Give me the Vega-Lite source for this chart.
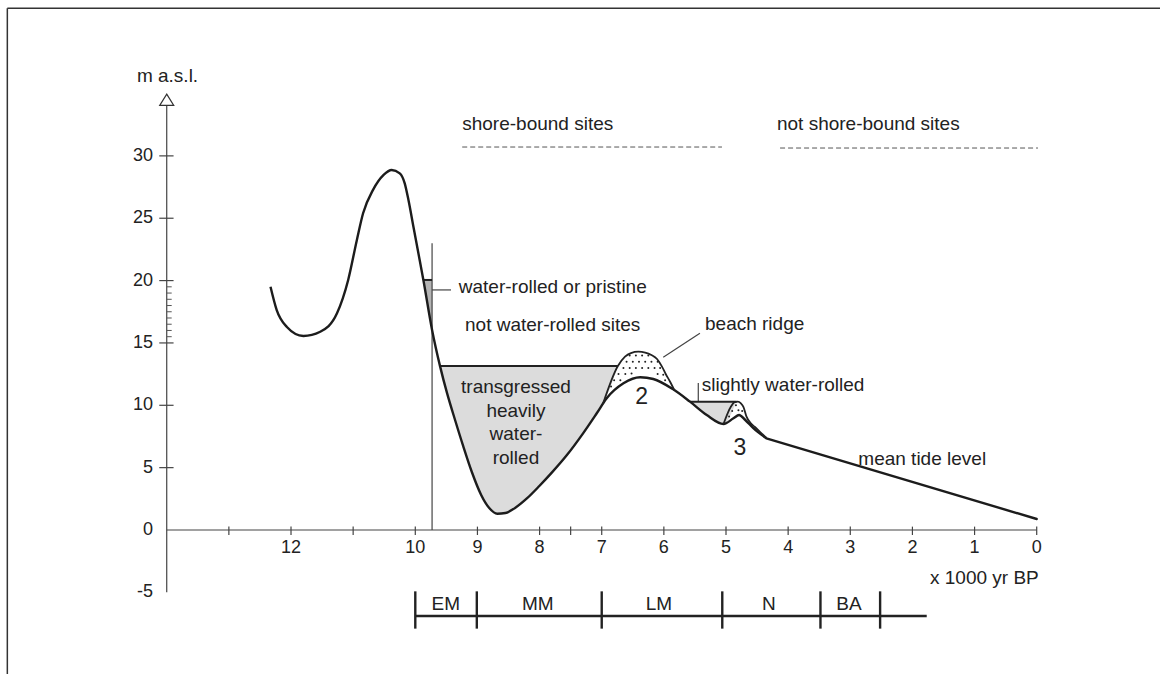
{
 "$schema": "https://vega.github.io/schema/vega-lite/v6.json",
 "width": 1160, "height": 674, "autosize": {"type": "none"}, "padding": 0,
 "background": "white",
 "config": {"view": {"stroke": null}, "text": {"font": "Liberation Sans", "color": "#222"}},
 "datasets": {
  "curve": [
   {"x":12.33,"y":19.51},{"x":12.23,"y":17.64},{"x":12.07,"y":16.30},{"x":11.80,"y":15.56},{"x":11.53,"y":15.90},
   {"x":11.26,"y":17.38},{"x":11.08,"y":20.05},{"x":10.94,"y":23.26},{"x":10.84,"y":25.40},{"x":10.68,"y":27.27},
   {"x":10.51,"y":28.47},{"x":10.38,"y":28.87},{"x":10.25,"y":28.60},{"x":10.17,"y":27.80},{"x":10.11,"y":26.46},
   {"x":10.03,"y":24.32},{"x":9.95,"y":22.19},{"x":9.87,"y":20.05},{"x":9.73,"y":16.04},{"x":9.60,"y":13.10},
   {"x":9.49,"y":10.99},{"x":9.36,"y":8.82},{"x":9.23,"y":6.74},{"x":9.09,"y":4.65},{"x":8.94,"y":2.81},
   {"x":8.81,"y":1.76},{"x":8.68,"y":1.30},{"x":8.55,"y":1.36},{"x":8.40,"y":1.75},{"x":8.20,"y":2.55},
   {"x":8.00,"y":3.55},{"x":7.80,"y":4.62},{"x":7.56,"y":6.01},{"x":7.30,"y":7.75},{"x":7.08,"y":9.36},
   {"x":6.92,"y":10.56},{"x":6.65,"y":11.76},{"x":6.38,"y":12.25},{"x":6.17,"y":12.11},{"x":5.85,"y":11.28},
   {"x":5.58,"y":10.29},{"x":5.31,"y":9.22},{"x":5.04,"y":8.50},{"x":4.88,"y":8.96},{"x":4.79,"y":9.22},
   {"x":4.69,"y":8.82},{"x":4.56,"y":8.16},{"x":4.35,"y":7.35}
  ],
  "tide": [{"x":4.35,"y":7.35},{"x":0.0,"y":0.88}],
  "shade": [
   {"reg":"a","x":9.60,"lo":13.10,"hi":13.15},{"reg":"a","x":9.49,"lo":10.99,"hi":13.15},{"reg":"a","x":9.36,"lo":8.82,"hi":13.15},
   {"reg":"a","x":9.23,"lo":6.74,"hi":13.15},{"reg":"a","x":9.09,"lo":4.65,"hi":13.15},{"reg":"a","x":8.94,"lo":2.81,"hi":13.15},
   {"reg":"a","x":8.81,"lo":1.76,"hi":13.15},{"reg":"a","x":8.68,"lo":1.30,"hi":13.15},{"reg":"a","x":8.55,"lo":1.36,"hi":13.15},
   {"reg":"a","x":8.40,"lo":1.75,"hi":13.15},{"reg":"a","x":8.20,"lo":2.55,"hi":13.15},{"reg":"a","x":8.00,"lo":3.55,"hi":13.15},
   {"reg":"a","x":7.80,"lo":4.62,"hi":13.15},{"reg":"a","x":7.56,"lo":6.01,"hi":13.15},{"reg":"a","x":7.30,"lo":7.75,"hi":13.15},
   {"reg":"a","x":7.08,"lo":9.36,"hi":13.15},{"reg":"a","x":6.98,"lo":10.11,"hi":13.15},{"reg":"a","x":6.74,"lo":13.15,"hi":13.15},
   {"reg":"b","x":5.58,"lo":10.29,"hi":10.29},{"reg":"b","x":5.31,"lo":9.22,"hi":10.29},{"reg":"b","x":5.04,"lo":8.50,"hi":10.29},
   {"reg":"b","x":4.84,"lo":10.29,"hi":10.29},
   {"reg":"c","x":9.87,"lo":20.05,"hi":20.05},{"reg":"c","x":9.80,"lo":18.10,"hi":20.05},{"reg":"c","x":9.73,"lo":16.04,"hi":20.05}
  ],
  "ridge": [
   {"r":"2","x":6.98,"y":10.11},{"r":"2","x":6.74,"y":13.15},{"r":"2","x":6.625,"y":13.90},{"r":"2","x":6.53,"y":14.19},
   {"r":"2","x":6.41,"y":14.30},{"r":"2","x":6.30,"y":14.23},{"r":"2","x":6.20,"y":14.03},{"r":"2","x":6.11,"y":13.71},
   {"r":"2","x":6.03,"y":13.10},{"r":"2","x":5.97,"y":12.51},{"r":"2","x":5.90,"y":11.89},{"r":"2","x":5.83,"y":11.20},
   {"r":"3","x":5.04,"y":8.50},{"r":"3","x":4.92,"y":9.90},{"r":"3","x":4.86,"y":10.25},{"r":"3","x":4.81,"y":10.29},
   {"r":"3","x":4.76,"y":10.15},{"r":"3","x":4.72,"y":9.88},{"r":"3","x":4.67,"y":9.09},{"r":"3","x":4.60,"y":8.55},
   {"r":"3","x":4.54,"y":8.28},{"r":"3","x":4.45,"y":7.85},{"r":"3","x":4.35,"y":7.38}
  ],
  "dots": [
   {"x":6.55,"y":14.0},{"x":6.45,"y":14.0},{"x":6.35,"y":14.0},{"x":6.25,"y":14.0},
   {"x":6.60,"y":13.5},{"x":6.50,"y":13.5},{"x":6.40,"y":13.5},{"x":6.30,"y":13.5},{"x":6.20,"y":13.5},{"x":6.10,"y":13.5},
   {"x":6.65,"y":13.0},{"x":6.55,"y":13.0},{"x":6.45,"y":13.0},{"x":6.35,"y":13.0},{"x":6.25,"y":13.0},{"x":6.15,"y":13.0},{"x":6.06,"y":13.0},
   {"x":6.73,"y":12.5},{"x":6.62,"y":12.5},{"x":6.52,"y":12.55},{"x":6.10,"y":12.5},{"x":6.01,"y":12.45},
   {"x":6.80,"y":12.0},{"x":6.70,"y":12.0},{"x":5.98,"y":12.0},
   {"x":6.85,"y":11.5},
   {"x":4.95,"y":9.1},{"x":4.90,"y":9.55},{"x":4.84,"y":10.0},{"x":4.80,"y":9.6},{"x":4.74,"y":9.55}
  ],
  "seg": [
   {"g":"axis","x":14,"y":-5,"x2":14,"y2":34.1},
   {"g":"axis","x":14,"y":0,"x2":0,"y2":0},
   {"g":"frame","x":16.565,"y":41.84,"x2":-1.984,"y2":41.84},
   {"g":"frame","x":16.565,"y":41.84,"x2":16.565,"y2":-11.548},
   {"g":"thin","x":9.73,"y":0,"x2":9.73,"y2":23},
   {"g":"thin","x":9.73,"y":19.25,"x2":9.425,"y2":19.25},
   {"g":"thin","x":6.01,"y":13.85,"x2":5.42,"y2":15.77},
   {"g":"thin","x":5.446,"y":10.29,"x2":5.446,"y2":11.79},
   {"g":"thick","x":9.87,"y":20.05,"x2":9.73,"y2":20.05},
   {"g":"thick","x":9.60,"y":13.15,"x2":6.74,"y2":13.15},
   {"g":"thick","x":5.58,"y":10.29,"x2":4.83,"y2":10.29},
   {"g":"dash","x":9.245,"y":30.71,"x2":5.065,"y2":30.71},
   {"g":"dash","x":4.13,"y":30.63,"x2":-0.02,"y2":30.63},
   {"g":"period","x":10,"y":-6.9,"x2":1.77,"y2":-6.9},
   {"g":"period","x":10,"y":-4.92,"x2":10,"y2":-7.91},
   {"g":"period","x":9.01,"y":-4.92,"x2":9.01,"y2":-7.91},
   {"g":"period","x":7.0,"y":-4.92,"x2":7.0,"y2":-7.91},
   {"g":"period","x":5.06,"y":-4.92,"x2":5.06,"y2":-7.91},
   {"g":"period","x":3.48,"y":-4.92,"x2":3.48,"y2":-7.91},
   {"g":"period","x":2.52,"y":-4.92,"x2":2.52,"y2":-7.91}
  ],
  "xticks": [{"v":13},{"v":12},{"v":11},{"v":10},{"v":9},{"v":8},{"v":7.5},{"v":7},{"v":6},{"v":5},{"v":4},{"v":3},{"v":2},{"v":1},{"v":0}],
  "xlabels": [{"v":12},{"v":10},{"v":9},{"v":8},{"v":7},{"v":6},{"v":5},{"v":4},{"v":3},{"v":2},{"v":1},{"v":0}],
  "yticks": [{"v":5},{"v":10},{"v":15},{"v":20},{"v":25},{"v":30}],
  "yminor": [{"v":15.5},{"v":16},{"v":16.5},{"v":17},{"v":17.5},{"v":18},{"v":18.5},{"v":19},{"v":19.5}],
  "ylabels": [{"v":-5},{"v":0},{"v":5},{"v":10},{"v":15},{"v":20},{"v":25},{"v":30}],
  "notes": [
   {"t":"m a.s.l.","x":14.48,"y":36.41},
   {"t":"shore-bound sites","x":9.245,"y":32.56},
   {"t":"not shore-bound sites","x":4.18,"y":32.56},
   {"t":"water-rolled or pristine","x":9.30,"y":19.51},
   {"t":"not water-rolled sites","x":9.20,"y":16.44},
   {"t":"beach ridge","x":5.338,"y":16.52},
   {"t":"slightly water-rolled","x":5.39,"y":11.63},
   {"t":"mean tide level","x":2.871,"y":5.67},
   {"t":"x 1000 yr BP","x":1.717,"y":-3.85}
  ],
  "centered": [
   {"t":"transgressed","x":8.38,"y":11.49},{"t":"heavily","x":8.38,"y":9.57},{"t":"water-","x":8.38,"y":7.70},{"t":"rolled","x":8.38,"y":5.75},
   {"t":"EM","x":9.51,"y":-5.90},{"t":"MM","x":8.03,"y":-5.90},{"t":"LM","x":6.08,"y":-5.90},{"t":"N","x":4.31,"y":-5.90},{"t":"BA","x":3.02,"y":-5.90}
  ],
  "big": [{"t":"2","x":6.357,"y":10.69},{"t":"3","x":4.775,"y":6.58}],
  "arrow": [{"x":14,"y":34.5}]
 },
 "layer": [
  {"data":{"name":"shade"},"transform":[{"filter":"datum.reg !== 'c'"}],
   "mark":{"type":"area","interpolate":"monotone","fill":"#dcdcdc","stroke":null},
   "encoding":{"x":{"field":"x","type":"quantitative","scale":{"domain":[16.683,-1.984],"nice":false,"zero":false},"axis":null},
    "y":{"field":"lo","type":"quantitative","scale":{"domain":[-11.548,42.5],"nice":false,"zero":false},"axis":null},
    "y2":{"field":"hi"},"detail":{"field":"reg"}}},
  {"data":{"name":"shade"},"transform":[{"filter":"datum.reg === 'c'"}],
   "mark":{"type":"area","fill":"#b4b4b4","stroke":null},
   "encoding":{"x":{"field":"x","type":"quantitative"},"y":{"field":"lo","type":"quantitative"},"y2":{"field":"hi"}}},
  {"data":{"name":"seg"},"transform":[{"filter":"datum.g === 'frame'"}],
   "mark":{"type":"rule","stroke":"#333","strokeWidth":1.5},
   "encoding":{"x":{"field":"x","type":"quantitative"},"y":{"field":"y","type":"quantitative"},"x2":{"field":"x2"},"y2":{"field":"y2"}}},
  {"data":{"name":"seg"},"transform":[{"filter":"datum.g === 'axis' || datum.g === 'thin'"}],
   "mark":{"type":"rule","stroke":"#444","strokeWidth":1.2},
   "encoding":{"x":{"field":"x","type":"quantitative"},"y":{"field":"y","type":"quantitative"},"x2":{"field":"x2"},"y2":{"field":"y2"}}},
  {"data":{"name":"seg"},"transform":[{"filter":"datum.g === 'dash'"}],
   "mark":{"type":"rule","stroke":"#555","strokeWidth":1,"strokeDash":[5,3]},
   "encoding":{"x":{"field":"x","type":"quantitative"},"y":{"field":"y","type":"quantitative"},"x2":{"field":"x2"},"y2":{"field":"y2"}}},
  {"data":{"name":"seg"},"transform":[{"filter":"datum.g === 'thick'"}],
   "mark":{"type":"rule","stroke":"#222","strokeWidth":2},
   "encoding":{"x":{"field":"x","type":"quantitative"},"y":{"field":"y","type":"quantitative"},"x2":{"field":"x2"},"y2":{"field":"y2"}}},
  {"data":{"name":"seg"},"transform":[{"filter":"datum.g === 'period'"}],
   "mark":{"type":"rule","stroke":"#222","strokeWidth":2.4},
   "encoding":{"x":{"field":"x","type":"quantitative"},"y":{"field":"y","type":"quantitative"},"x2":{"field":"x2"},"y2":{"field":"y2"}}},
  {"data":{"name":"xticks"},"mark":{"type":"rule","stroke":"#444","strokeWidth":1.2},
   "encoding":{"x":{"field":"v","type":"quantitative"},"y":{"datum":0.27,"type":"quantitative"},"y2":{"datum":-0.4}}},
  {"data":{"name":"yticks"},"mark":{"type":"rule","stroke":"#444","strokeWidth":1.2},
   "encoding":{"y":{"field":"v","type":"quantitative"},"x":{"datum":14.12,"type":"quantitative"},"x2":{"datum":13.89}}},
  {"data":{"name":"yminor"},"mark":{"type":"rule","stroke":"#555","strokeWidth":1},
   "encoding":{"y":{"field":"v","type":"quantitative"},"x":{"datum":14.0,"type":"quantitative"},"x2":{"datum":13.92}}},
  {"data":{"name":"arrow"},"mark":{"type":"point","shape":"M0,-0.8L1,0.8L-1,0.8Z","size":196,"filled":false,"fill":"white","stroke":"#333","strokeWidth":1.2,"opacity":1},
   "encoding":{"x":{"field":"x","type":"quantitative"},"y":{"field":"y","type":"quantitative"}}},
  {"data":{"name":"curve"},"mark":{"type":"line","interpolate":"monotone","stroke":"#1c1c1c","strokeWidth":2.4},
   "encoding":{"x":{"field":"x","type":"quantitative"},"y":{"field":"y","type":"quantitative"}}},
  {"data":{"name":"tide"},"mark":{"type":"line","interpolate":"linear","stroke":"#1c1c1c","strokeWidth":2.4,"strokeCap":"round"},
   "encoding":{"x":{"field":"x","type":"quantitative"},"y":{"field":"y","type":"quantitative"}}},
  {"data":{"name":"ridge"},"mark":{"type":"line","interpolate":"monotone","stroke":"#222","strokeWidth":1.8},
   "encoding":{"x":{"field":"x","type":"quantitative"},"y":{"field":"y","type":"quantitative"},"detail":{"field":"r"}}},
  {"data":{"name":"dots"},"mark":{"type":"circle","size":4,"color":"#222","opacity":1},
   "encoding":{"x":{"field":"x","type":"quantitative"},"y":{"field":"y","type":"quantitative"}}},
  {"data":{"name":"xlabels"},"mark":{"type":"text","fontSize":18,"align":"center","baseline":"middle"},
   "encoding":{"x":{"field":"v","type":"quantitative"},"y":{"datum":-1.44,"type":"quantitative"},"text":{"field":"v"}}},
  {"data":{"name":"ylabels"},"mark":{"type":"text","fontSize":18,"align":"right","baseline":"middle"},
   "encoding":{"y":{"field":"v","type":"quantitative"},"x":{"datum":14.22,"type":"quantitative"},"text":{"field":"v"}}},
  {"data":{"name":"notes"},"mark":{"type":"text","fontSize":19,"align":"left","baseline":"middle"},
   "encoding":{"x":{"field":"x","type":"quantitative"},"y":{"field":"y","type":"quantitative"},"text":{"field":"t"}}},
  {"data":{"name":"centered"},"mark":{"type":"text","fontSize":19,"align":"center","baseline":"middle"},
   "encoding":{"x":{"field":"x","type":"quantitative"},"y":{"field":"y","type":"quantitative"},"text":{"field":"t"}}},
  {"data":{"name":"big"},"mark":{"type":"text","fontSize":23,"align":"center","baseline":"middle"},
   "encoding":{"x":{"field":"x","type":"quantitative"},"y":{"field":"y","type":"quantitative"},"text":{"field":"t"}}}
 ]
}
